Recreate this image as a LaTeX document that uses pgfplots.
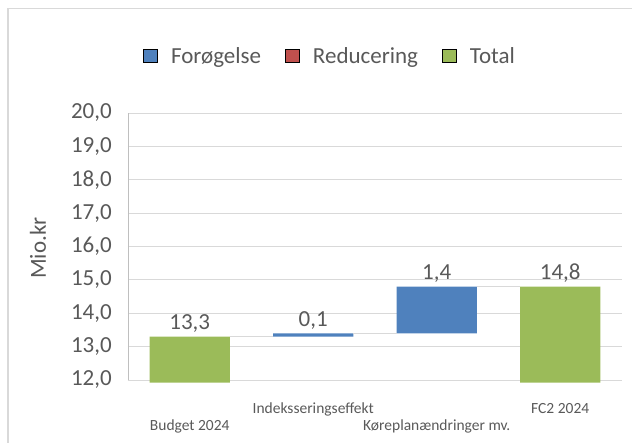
\documentclass[border=0pt]{standalone}
\usepackage{pgfplots}
\pgfplotsset{compat=1.18}
\usepackage{fontspec}
\setmainfont{Carlito}
\definecolor{cblue}{HTML}{4F81BD}
\definecolor{cred}{HTML}{C0504D}
\definecolor{cgreen}{HTML}{9BBB59}
\definecolor{tgray}{HTML}{595959}
\definecolor{ggray}{HTML}{D9D9D9}
\definecolor{agray}{HTML}{BFBFBF}
\begin{document}
\begin{tikzpicture}
\useasboundingbox (0,0) rectangle (632pt,443pt);
\draw[color=ggray, line width=1.6pt] (8pt,-20pt) -- (8pt,434.5pt) -- (660pt,434.5pt);
\begin{axis}[
  at={(128pt,63pt)}, anchor=south west,
  scale only axis, width=494pt, height=267pt,
  xmin=-0.5, xmax=3.5, ymin=12, ymax=20,
  ybar stacked, bar width=80pt,
  clip=false,
  axis x line*=bottom, axis y line*=left,
  x axis line style={draw=ggray, line width=0.8pt},
  y axis line style={draw=agray, line width=0.8pt},
  major tick length=0pt,
  xtick={0,1,2,3},
  xticklabels={{\strut\\Budget 2024},{\strut Indeksseringseffekt},{\strut\\Køreplanændringer mv.},{\strut FC2 2024}},
  xticklabel style={align=center, font=\fontsize{15.5}{17}\selectfont, text=tgray, anchor=north, inner sep=0pt, yshift=-21pt},
  ytick={12,13,...,20},
  yticklabel style={font=\fontsize{23}{27}\selectfont, text=tgray, inner sep=0pt, xshift=-16pt},
  /pgf/number format/fixed, /pgf/number format/fixed zerofill,
  /pgf/number format/precision=1, /pgf/number format/use comma,
  /pgf/number format/assume math mode=true,
  ymajorgrids, grid style={draw=ggray, line width=0.8pt},
  ylabel={Mio.kr},
  ylabel style={font=\fontsize{23}{27}\selectfont, text=tgray, at={(axis description cs:-0.182,0.494)}, anchor=center},
  legend columns=-1,
  legend style={at={(axis description cs:0.409,1.213)}, anchor=center, draw=none, fill=none,
    font=\fontsize{23}{27}\selectfont, text=tgray,
    /tikz/every even column/.append style={column sep=22pt}},
  legend image code/.code={\fill[#1] (0pt,-6.5pt) rectangle (13.5pt,7pt);},
]
% invisible base
\addplot[fill=none, draw=none, forget plot] coordinates {(0,11.92) (1,13.3) (2,13.4) (3,11.92)};
% increases
\addplot[fill=cblue, draw=none, forget plot] coordinates {(0,0) (1,0.1) (2,1.4) (3,0)};
% totals
\addplot[fill=cgreen, draw=none, forget plot] coordinates {(0,1.38) (1,0) (2,0) (3,2.88)};
\addlegendimage{fill=cblue}
\addlegendentry{\hspace{12pt}Forøgelse}
\addlegendimage{fill=cred}
\addlegendentry{\hspace{12pt}Reducering}
\addlegendimage{fill=cgreen}
\addlegendentry{\hspace{12pt}Total}
\end{axis}
\begin{axis}[
  at={(128pt,63pt)}, anchor=south west,
  scale only axis, width=494pt, height=267pt,
  xmin=-0.5, xmax=3.5, ymin=12, ymax=20,
  hide axis, clip=false,
]
\addplot[ggray, line width=1pt] coordinates {(0.324,13.3) (0.676,13.3)};
\addplot[ggray, line width=1pt] coordinates {(1.324,13.4) (1.676,13.4)};
\addplot[ggray, line width=1pt] coordinates {(2.324,14.8) (2.676,14.8)};
\addplot[draw=none, mark=none, nodes near coords, point meta=explicit symbolic,
  every node near coord/.append style={font=\fontsize{23}{27}\selectfont, text=tgray, anchor=south, inner sep=3.5pt}]
  coordinates {(0,13.3) [13,3] (1,13.4) [0,1] (2,14.8) [1,4] (3,14.8) [14,8]};
\end{axis}
\end{tikzpicture}
\end{document}
